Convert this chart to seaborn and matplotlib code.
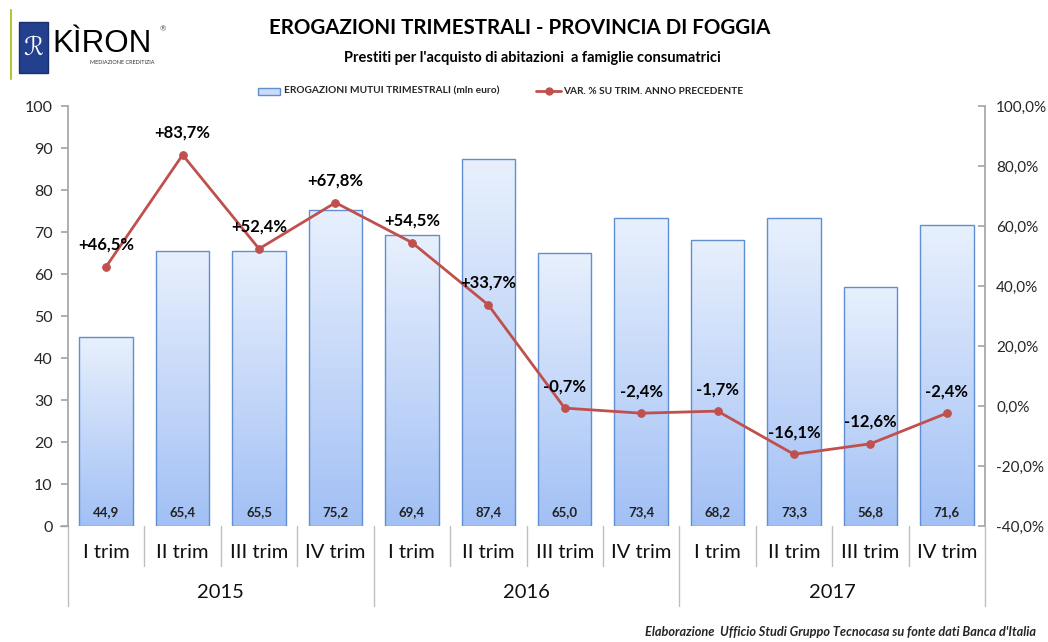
import numpy as np
import pandas as pd
import matplotlib
matplotlib.use("Agg")
import matplotlib.pyplot as plt
import seaborn as sns
from matplotlib.patches import Rectangle
from matplotlib.lines import Line2D
from matplotlib.colors import LinearSegmentedColormap

# ---- data ----
quarters = ["I trim", "II trim", "III trim", "IV trim"] * 3
years = ["2015", "2016", "2017"]
erogazioni = [44.9, 65.4, 65.5, 75.2, 69.4, 87.4, 65.0, 73.4, 68.2, 73.3, 56.8, 71.6]
variazione = [46.5, 83.7, 52.4, 67.8, 54.5, 33.7, -0.7, -2.4, -1.7, -16.1, -12.6, -2.4]
left_ticks = list(range(0, 101, 10))
right_ticks = list(range(-40, 101, 20))

sns.set_theme(style="white")
plt.rcParams["font.family"] = ["Lato", "DejaVu Sans"]

W, H = 1048, 642
fig = plt.figure(figsize=(W / 100, H / 100), dpi=100)
x0, x1, y0, y1 = 68, 985, 106, 526
ax = fig.add_axes([x0 / W, 1 - y1 / H, (x1 - x0) / W, (y1 - y0) / H])

df = pd.DataFrame({"pos": list(range(12)), "val": erogazioni})
sns.barplot(data=df, x="pos", y="val", ax=ax, width=0.7, color="#a9c6f4",
            edgecolor="#5f8fd2", linewidth=1.0, native_scale=True)
ax.set_xlim(-0.5, 11.5)
ax.set_ylim(0, 100)

# gradient fill inside bars
cmap = LinearSegmentedColormap.from_list("g", ["#a2c0f5", "#e8f0fd"])
grad = np.linspace(0, 1, 256).reshape(-1, 1)
for p in list(ax.patches):
    bx, by = p.get_x(), p.get_y()
    bw, bh = p.get_width(), p.get_height()
    im = ax.imshow(grad, cmap=cmap, origin="lower", aspect="auto",
                   extent=[bx, bx + bw, by, by + bh], zorder=1.5)
    im.set_clip_path(p)
    p.set_facecolor("none")
    p.set_zorder(2)
ax.set_xlim(-0.5, 11.5)
ax.set_ylim(0, 100)

for i, v in enumerate(erogazioni):
    ax.text(i, 3.3, f"{v:.1f}".replace(".", ","), ha="center", va="center",
            fontsize=9.5, fontweight="bold", color="#222222", zorder=5)

ax.set_yticks(left_ticks)
ax.set_yticklabels([str(t) for t in left_ticks], fontsize=11.5)
ax.set_xticks([])
ax.set_xlabel("")
ax.set_ylabel("")
for s in ["top", "right", "bottom"]:
    ax.spines[s].set_visible(False)
ax.spines["left"].set_color("#a6a6a6")
ax.tick_params(axis="y", which="both", left=True, length=5, color="#a6a6a6", pad=6)

# secondary axis line
ax2 = ax.twinx()
ldf = pd.DataFrame({"pos": list(range(12)), "var": variazione})
sns.lineplot(data=ldf, x="pos", y="var", ax=ax2, color="#c0504d", linewidth=2.0,
             marker="o", markersize=5.5, markeredgecolor="#c0504d")
ax2.set_ylim(-40, 100)
ax2.set_xlim(-0.5, 11.5)
ax2.set_yticks(right_ticks)
ax2.set_yticklabels([f"{t:.1f}%".replace(".", ",") for t in right_ticks], fontsize=11)
ax2.set_ylabel("")
ax2.set_xlabel("")
for s in ["top", "left", "bottom"]:
    ax2.spines[s].set_visible(False)
ax2.spines["right"].set_color("#a6a6a6")
ax2.tick_params(axis="y", right=True, direction="in", length=5, color="#a6a6a6", pad=8)

for i, v in enumerate(variazione):
    s = (f"+{v:.1f}%" if v > 0 else f"{v:.1f}%").replace(".", ",")
    ax2.annotate(s, (i, v), xytext=(0, 10), textcoords="offset points",
                 ha="center", va="bottom", fontsize=12, fontweight="bold", color="black")

# category axis (two levels)
def fx(px):
    return px / W
def fy(py):
    return 1 - py / H

cw = (x1 - x0) / 12
for k in range(13):
    xp = x0 + k * cw
    bottom = 606 if k % 4 == 0 else 566
    fig.add_artist(Line2D([fx(xp), fx(xp)], [fy(526), fy(bottom)], color="#bfbfbf", lw=1))
fig.add_artist(Line2D([fx(x0 - 8), fx(x0)], [fy(526), fy(526)], color="#a6a6a6", lw=1))
for i, q in enumerate(quarters):
    fig.text(fx(x0 + (i + 0.5) * cw), fy(552), q, ha="center", va="center", fontsize=14.5, color="#111111")
for j, yr in enumerate(years):
    fig.text(fx(x0 + (4 * j + 2) * cw), fy(593), yr, ha="center", va="center", fontsize=14.5, color="#111111")

# titles
fig.text(fx(520), fy(28), "EROGAZIONI TRIMESTRALI - PROVINCIA DI FOGGIA", ha="center", va="center",
         fontsize=14.8, fontweight="bold", color="black")
fig.text(fx(532), fy(58), "Prestiti per l'acquisto di abitazioni  a famiglie consumatrici", ha="center",
         va="center", fontsize=10.5, fontweight="bold", color="black")

# legend
fig.add_artist(Rectangle((fx(258), fy(95)), (280 - 258) / W, 7 / H, facecolor="#c9dcf8",
                         edgecolor="#5f8fd2", lw=1))
fig.text(fx(284), fy(91), "EROGAZIONI MUTUI TRIMESTRALI (mln euro)", ha="left", va="center",
         fontsize=7.3, fontweight="bold")
fig.add_artist(Line2D([fx(536), fx(561)], [fy(91), fy(91)], color="#c0504d", lw=2.0))
fig.add_artist(Line2D([fx(548.5)], [fy(91)], color="#c0504d", marker="o", markersize=5))
fig.text(fx(563), fy(91), "VAR. % SU TRIM. ANNO PRECEDENTE", ha="left", va="center",
         fontsize=7.3, fontweight="bold")

# logo
fig.add_artist(Line2D([fx(11), fx(11)], [fy(10), fy(79)], color="#b8c43a", lw=1.5))
fig.add_artist(Rectangle((fx(19), fy(73)), 29 / W, 51 / H, facecolor="#23408f", edgecolor="#1a2f6b"))
fig.text(fx(33), fy(47), "ℛ", ha="center", va="center", fontsize=18, color="white")
fig.text(fx(52), fy(44), "KÌRON", ha="left", va="center", fontsize=22.5, color="black",
         family=["Liberation Sans", "DejaVu Sans"])
fig.text(fx(160), fy(29), "®", ha="left", va="center", fontsize=5.5, color="#555555")
fig.text(fx(122), fy(62), "MEDIAZIONE CREDITIZIA", ha="center", va="center", fontsize=4, color="#333333")

# footer
fig.text(fx(1036), fy(632), "Elaborazione  Ufficio Studi Gruppo Tecnocasa su fonte dati Banca d'Italia",
         ha="right", va="center", fontsize=9.2, fontweight="bold", style="italic")

fig.savefig("out.png", dpi=100, facecolor="white")
